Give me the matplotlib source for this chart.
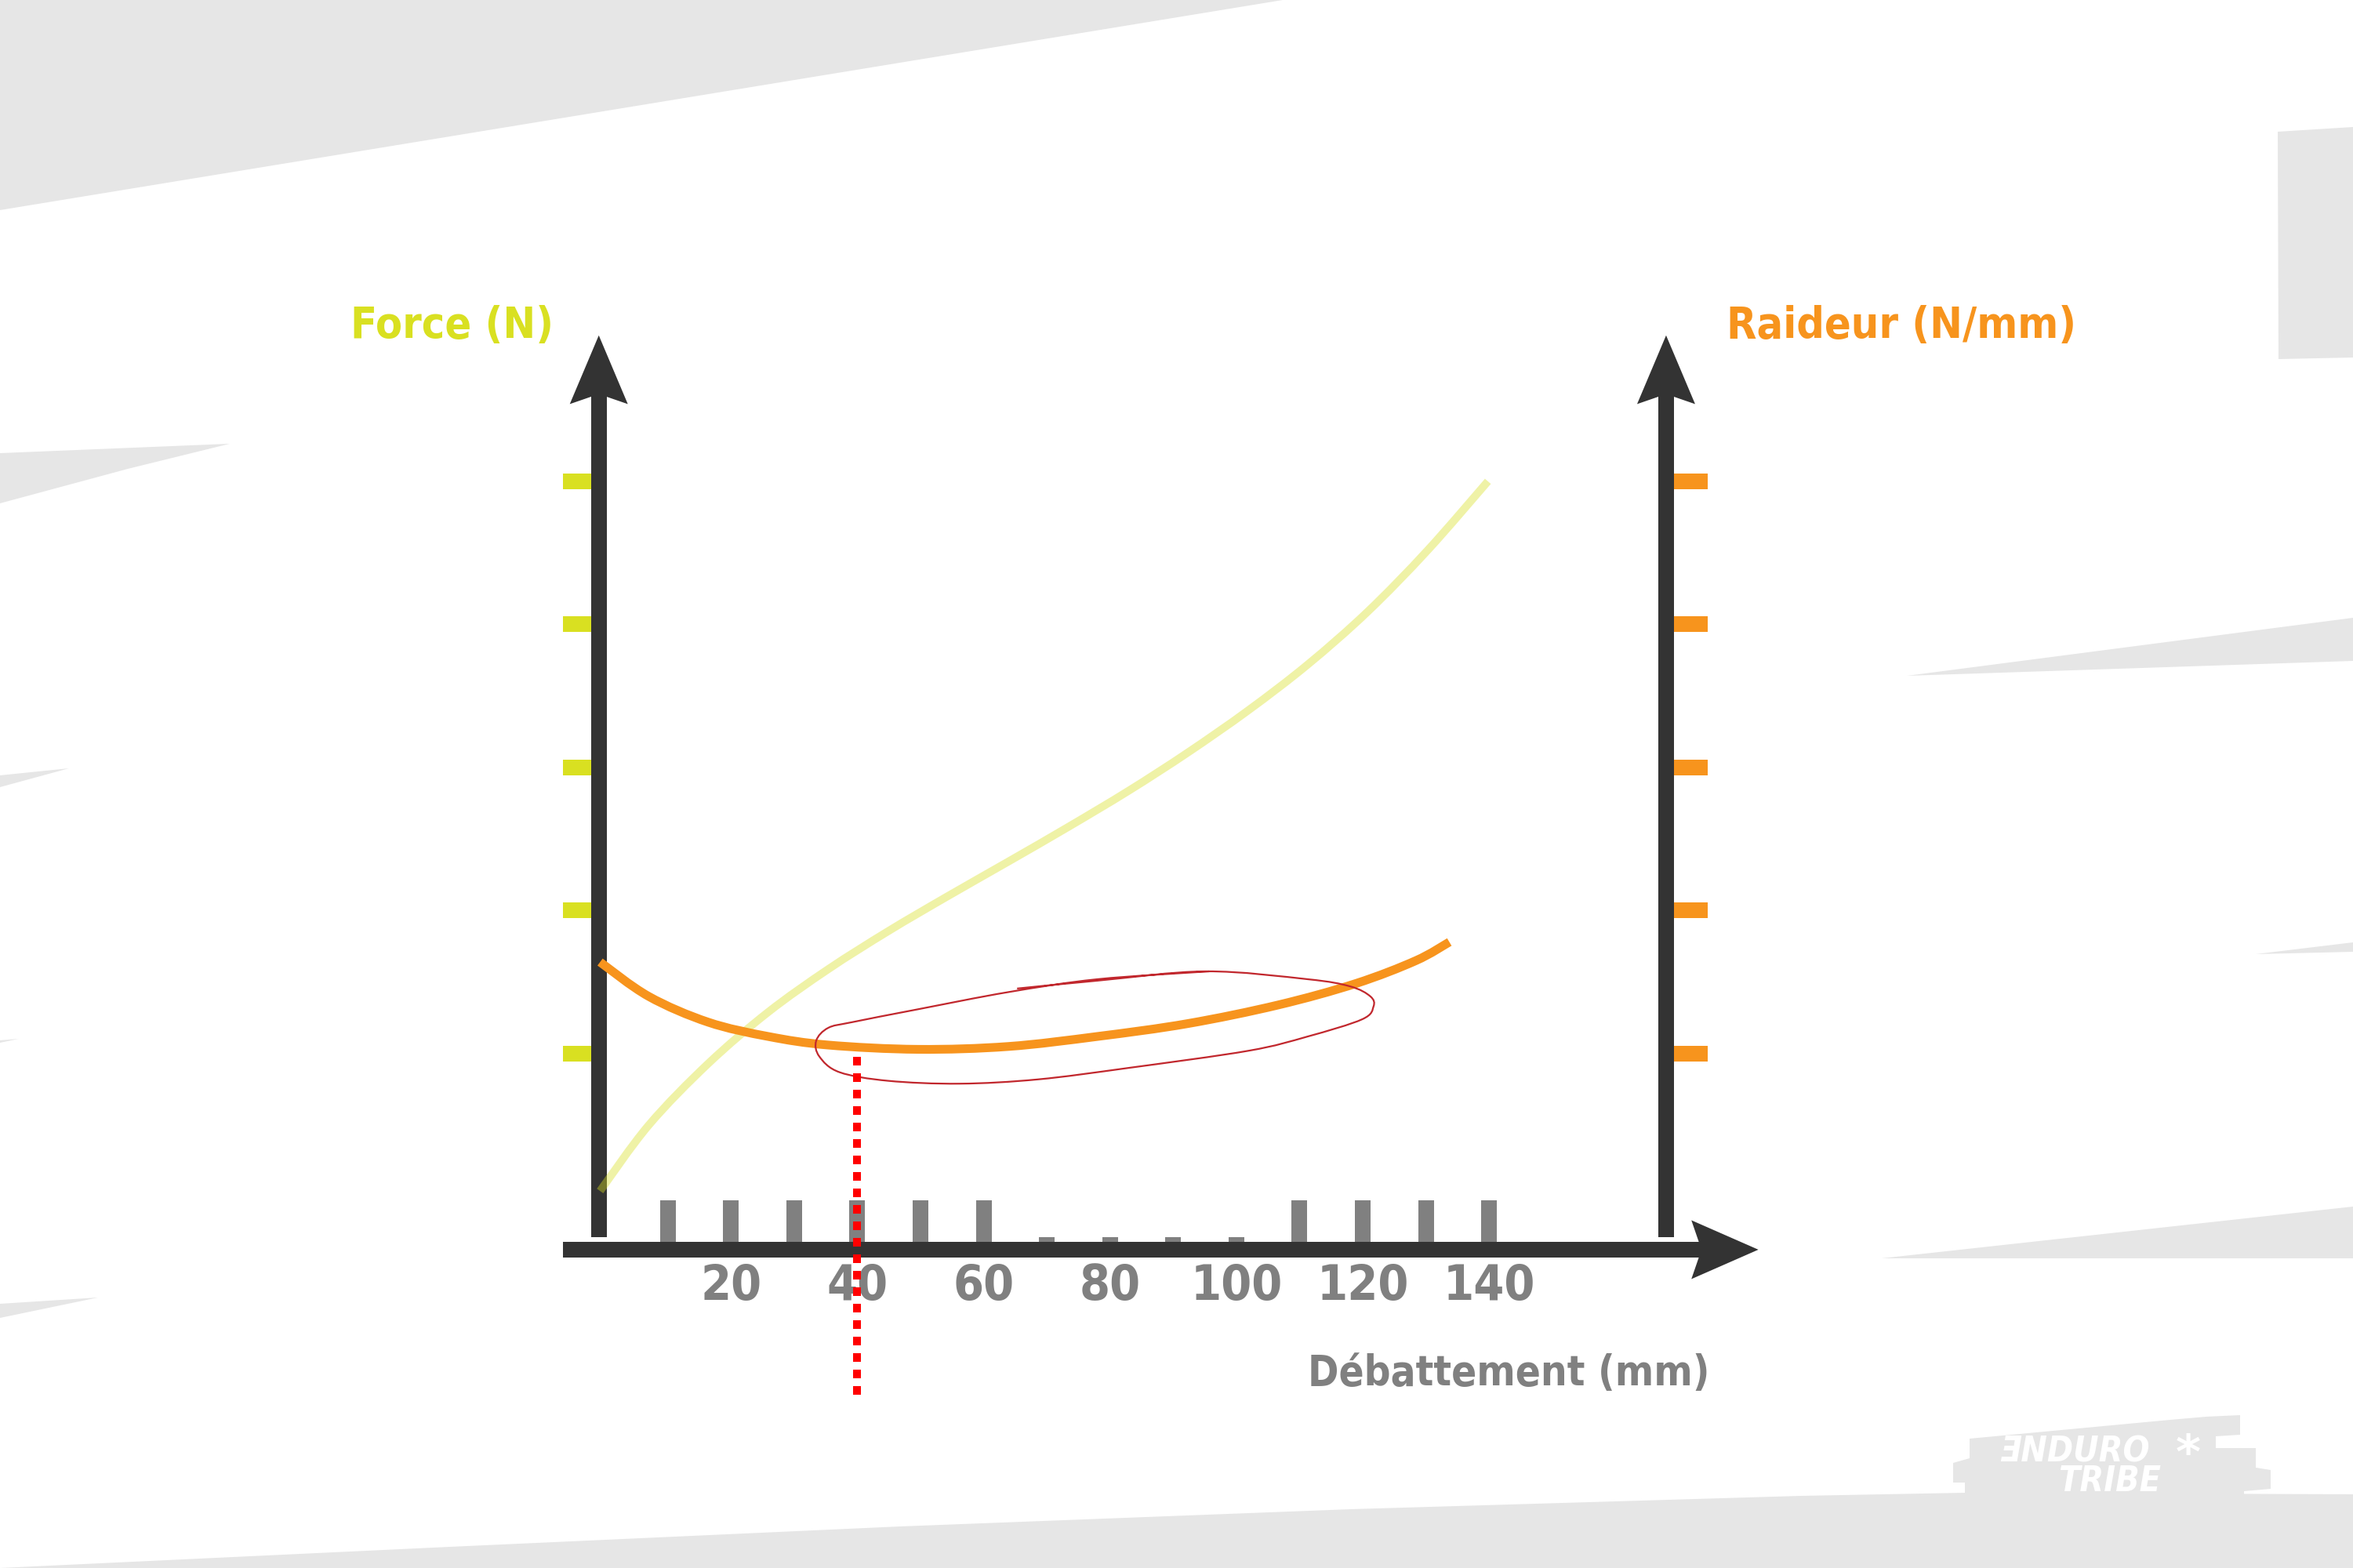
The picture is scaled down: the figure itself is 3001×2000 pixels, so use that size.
import numpy as np
import matplotlib.pyplot as plt
from matplotlib.patches import Polygon, PathPatch
from matplotlib.path import Path

# travel (mm) and curves, y in tick units (1..5)
travel_ticks = [10, 20, 30, 40, 50, 60, 70, 80, 90, 100, 110, 120, 130, 140]
short_ticks = [70, 80, 90, 100]
travel_labels = [20, 40, 60, 80, 100, 120, 140]
level_ticks = [1, 2, 3, 4, 5]

force_x = [-0.7, 7.0, 16.4, 25.9, 35.4, 44.9, 54.3, 63.9, 73.3, 82.9, 92.3, 101.9, 111.3, 120.8, 130.3, 139.8]
force_y = [0.04, 0.50, 0.93, 1.29, 1.59, 1.856, 2.10, 2.342, 2.582, 2.836, 3.104, 3.40, 3.72, 4.09, 4.52, 5.00]

stiff_x = [-0.7, 7.0, 16.4, 25.9, 35.4, 49.6, 63.9, 78.0, 92.3, 106.6, 118.9, 128.4, 133.7]
stiff_y = [1.64, 1.40, 1.22, 1.12, 1.06, 1.03, 1.05, 1.12, 1.21, 1.34, 1.49, 1.65, 1.78]

# hand drawn loop around the flat part of the stiffness curve
loop_x = [65.3, 78.0, 95.2, 111.3, 118.0, 121.2, 121.7, 119.9, 111.3, 101.9, 82.9, 68.6, 56.2,
          44.9, 37.2, 34.0, 33.5, 35.4, 39.2, 49.6, 63.9, 78.0, 95.7]
loop_y = [1.455, 1.51, 1.575, 1.52, 1.47, 1.40, 1.33, 1.24, 1.12, 1.02, 0.90, 0.82, 0.79,
          0.81, 0.87, 0.98, 1.09, 1.18, 1.22, 1.31, 1.43, 1.52, 1.575]
marker_travel = 40

DARK = '#333333'
GREY = '#808080'
YELLOW = '#d9e021'
ORANGE = '#f7941d'
BG = '#e6e6e6'
FONT = ['DejaVu Sans']


def smooth_path(xs, ys):
    # catmull-rom through the points, drawn as cubic bezier segments
    p = np.column_stack([xs, ys]).astype(float)
    verts = [p[0]]
    codes = [Path.MOVETO]
    n = len(p)
    for i in range(n - 1):
        p0 = p[i - 1] if i > 0 else p[i]
        p1, p2 = p[i], p[i + 1]
        p3 = p[i + 2] if i + 2 < n else p[i + 1]
        verts += [p1 + (p2 - p0) / 6, p2 - (p3 - p1) / 6, p2]
        codes += [Path.CURVE4] * 3
    return Path(verts, codes)


fig = plt.figure(figsize=(15.005, 10), dpi=200)

# background decoration in pixel coordinates
bg = fig.add_axes([0, 0, 1, 1])
bg.set_xlim(0, 3001)
bg.set_ylim(2000, 0)
bg.axis('off')
shapes = [
    [(0, 0), (1636, 0), (0, 268)],
    [(0, 578), (293, 566), (163, 598), (0, 642)],
    [(0, 989), (88, 980), (0, 1004)],
    [(0, 1327), (24, 1325), (0, 1330)],
    [(0, 1663), (125, 1655), (0, 1681)],
    [(2905, 168), (3001, 162), (3001, 456), (2906, 458)],
    [(2432, 862), (3001, 788), (3001, 843)],
    [(2877, 1217), (3001, 1202), (3001, 1214)],
    [(2400, 1605), (3001, 1539), (3001, 1605)],
    [(0, 2000), (574, 1973), (1148, 1947), (1723, 1925), (2297, 1908), (2507, 1904),
     (3001, 1906), (3001, 2000)],
    # logo block
    [(2512, 1835), (2768, 1811), (2814, 1807), (2857, 1805),
     (2857, 1830), (2826, 1832), (2826, 1847), (2877, 1847), (2877, 1872), (2896, 1875),
     (2896, 1899), (2862, 1902), (2862, 1910), (2506, 1910), (2506, 1891), (2491, 1891),
     (2491, 1866), (2512, 1860)],
]
for pts in shapes:
    bg.add_patch(Polygon(pts, closed=True, facecolor=BG, edgecolor='none'))
logo = dict(color='white', fontweight='bold', style='italic', ha='center', va='center',
            family=FONT, fontstretch='condensed')
bg.text(2646, 1852, 'ƎNDURO', fontsize=16, **logo)
bg.text(2691, 1890, 'TRIBE', fontsize=16, **logo)
bg.text(2791, 1856, '*', color='white', fontsize=22, fontweight='bold', ha='center', va='center')

# chart axes: 8.06 px per mm, 182.5 px per level
ax = fig.add_axes([0, 0, 1, 1])
ax.patch.set_alpha(0)
ax.set_xlim(-95.66, 276.7)
ax.set_ylim(-2.595, 8.364)
ax.axis('off')
sx = 1 / 8.06
sy = 1 / 182.5
lw20 = 20 * 72 / 200

x_left = -0.9
x_right = 168.0
y_axis = -0.370
y_floor = -0.282


def up_arrow(x0):
    ax.plot([x0, x0], [y_floor, 5.62], color=DARK, lw=lw20, solid_capstyle='butt', zorder=3)
    head = [(x0, 6.02), (x0 + 37 * sx, 5.54), (x0, 5.61), (x0 - 37 * sx, 5.54)]
    ax.add_patch(Polygon(head, closed=True, facecolor=DARK, edgecolor='none', zorder=3))


up_arrow(x_left)
up_arrow(x_right)
ax.plot([-6.58, 173.8], [y_axis, y_axis], color=DARK, lw=lw20, solid_capstyle='butt', zorder=3)
ax.add_patch(Polygon([(182.6, y_axis), (172.0, y_axis + 37.5 * sy), (173.6, y_axis),
                      (172.0, y_axis - 37.5 * sy)], closed=True, facecolor=DARK,
                     edgecolor='none', zorder=3))

# level ticks on both axes
for lv in level_ticks:
    ax.plot([-6.58, x_left], [lv, lv], color=YELLOW, lw=lw20, solid_capstyle='butt', zorder=2)
    ax.plot([x_right, 174.6], [lv, lv], color=ORANGE, lw=lw20, solid_capstyle='butt', zorder=2)

# travel ticks
base = y_axis + 10 * sy
for t in travel_ticks:
    h = 6 * sy if t in short_ticks else 53 * sy
    ax.bar(t, h, bottom=base, width=20 * sx, color=GREY, zorder=2)

txt = dict(fontweight='bold', ha='center', va='center', family=FONT, fontstretch='condensed')
for t in travel_labels:
    ax.text(t, -0.63, str(t), color=GREY, fontsize=22.5, zorder=2, **txt)

ax.text(143.1, -1.236, 'Débattement (mm)', color=GREY, fontsize=19, **txt)
ax.text(-24.1, 6.085, 'Force (N)', color=YELLOW, fontsize=20, **txt)
ax.text(205.2, 6.085, 'Raideur (N/mm)', color=ORANGE, fontsize=20, **txt)

# curves
ax.add_patch(PathPatch(smooth_path(force_x, force_y), facecolor='none', edgecolor=YELLOW,
                       alpha=0.4, lw=3.6, capstyle='butt', zorder=4))
ax.add_patch(PathPatch(smooth_path(stiff_x, stiff_y), facecolor='none', edgecolor=ORANGE,
                       lw=4.0, capstyle='butt', zorder=5))
ax.add_patch(PathPatch(smooth_path(loop_x, loop_y), facecolor='none', edgecolor='#c1272d',
                       lw=0.8, zorder=6))
ax.plot([marker_travel, marker_travel], [0.978, -1.40], color='#ff0000', lw=3.6,
        linestyle=(0, (1.1, 1.0)), zorder=7)

fig.savefig('out.png', dpi=200)
